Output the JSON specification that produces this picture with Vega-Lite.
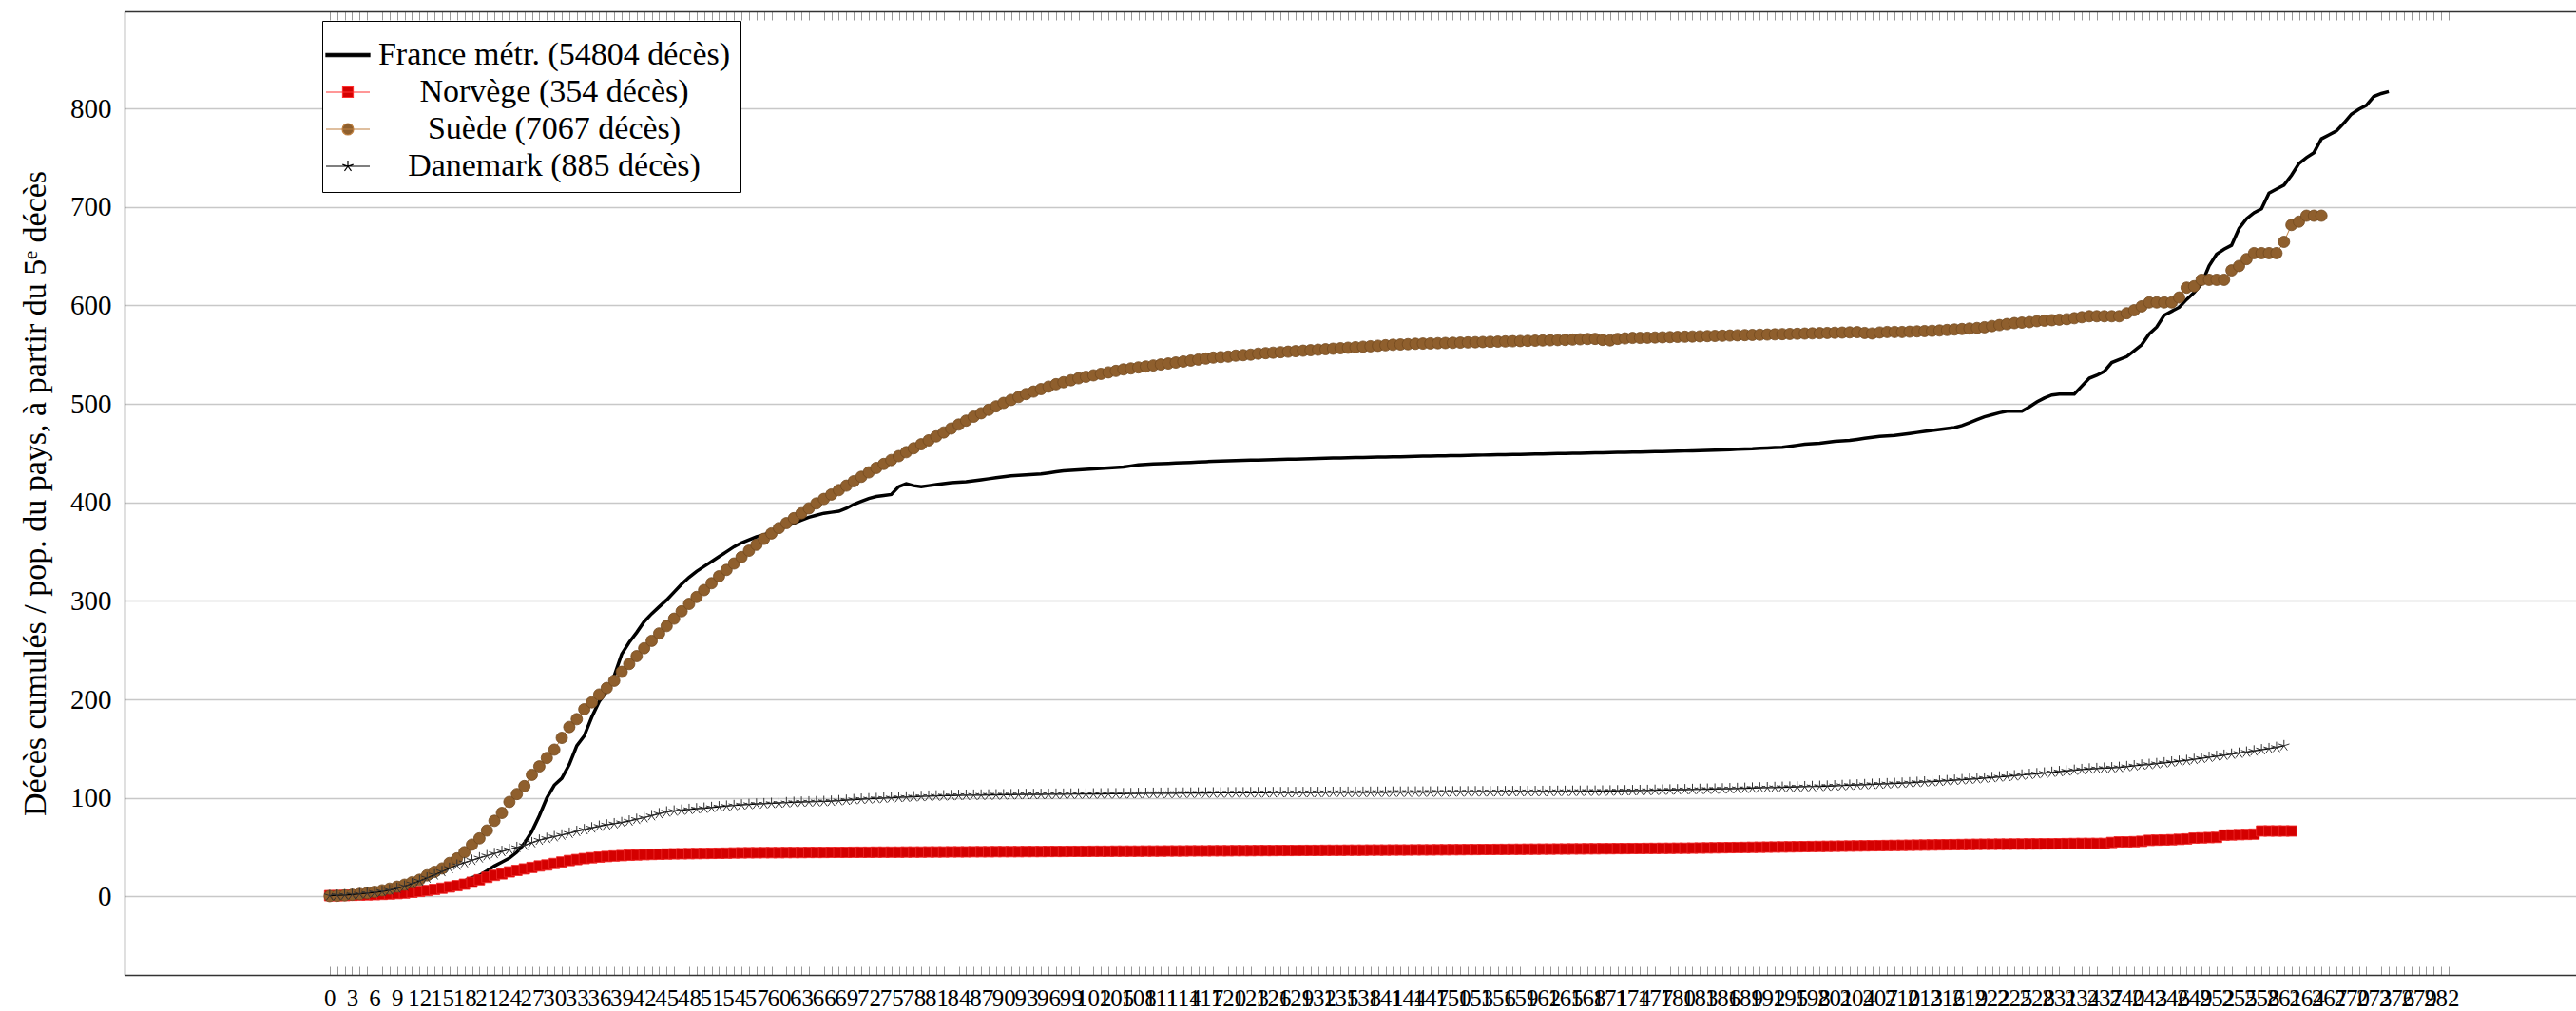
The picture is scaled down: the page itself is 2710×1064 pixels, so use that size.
{
"$schema": "https://vega.github.io/schema/vega-lite/v6.json",
"width": 2579, "height": 1014,
"autosize": {"type": "none"},
"padding": {"left": 131, "top": 12, "right": 0, "bottom": 38},
"background": "white",
"config": {"view": {"stroke": null}, "font": "Liberation Serif"},
"data": {"values": [
{"d":0,"fr":0.1,"no":0.9,"se":0.5,"dk":0.9},
{"d":1,"fr":0.1,"no":0.9,"se":0.8,"dk":1.2},
{"d":2,"fr":0.15,"no":1.1,"se":1.2,"dk":1.6},
{"d":3,"fr":0.2,"no":1.3,"se":1.8,"dk":2.1},
{"d":4,"fr":0.3,"no":1.5,"se":2.6,"dk":2.7},
{"d":5,"fr":0.45,"no":1.7,"se":3.6,"dk":3.4},
{"d":6,"fr":0.6,"no":1.9,"se":4.8,"dk":4.2},
{"d":7,"fr":0.8,"no":2.2,"se":6.3,"dk":5.2},
{"d":8,"fr":1.2,"no":2.6,"se":8,"dk":6.6},
{"d":9,"fr":1.7,"no":3,"se":10,"dk":8.3},
{"d":10,"fr":2.3,"no":3.5,"se":12,"dk":10.5},
{"d":11,"fr":3.1,"no":4.3,"se":14.5,"dk":13},
{"d":12,"fr":4.1,"no":5.2,"se":17,"dk":15.8},
{"d":13,"fr":5.5,"no":6.1,"se":21.5,"dk":18.8},
{"d":14,"fr":7,"no":7.2,"se":25,"dk":22},
{"d":15,"fr":9,"no":8.4,"se":28.5,"dk":25.3},
{"d":16,"fr":11,"no":9.7,"se":34,"dk":28.6},
{"d":17,"fr":13.5,"no":11,"se":38.7,"dk":31.8},
{"d":18,"fr":16,"no":12.5,"se":45,"dk":34.3},
{"d":19,"fr":19,"no":14.5,"se":52.6,"dk":36.8},
{"d":20,"fr":21.5,"no":17,"se":59,"dk":39.2},
{"d":21,"fr":26,"no":19.5,"se":67,"dk":41.4},
{"d":22,"fr":31,"no":21.5,"se":76.8,"dk":43.6},
{"d":23,"fr":35,"no":23,"se":84.8,"dk":45.7},
{"d":24,"fr":39,"no":25,"se":96,"dk":47.7},
{"d":25,"fr":45,"no":26.5,"se":104,"dk":49.7},
{"d":26,"fr":54,"no":28,"se":112,"dk":51.8},
{"d":27,"fr":66,"no":29.5,"se":123.5,"dk":54.6},
{"d":28,"fr":82,"no":31,"se":132,"dk":57.2},
{"d":29,"fr":100,"no":32,"se":140.6,"dk":59},
{"d":30,"fr":113,"no":33.5,"se":149,"dk":60.7},
{"d":31,"fr":120,"no":35,"se":161,"dk":62.4},
{"d":32,"fr":134,"no":36.5,"se":172,"dk":64.2},
{"d":33,"fr":153,"no":37.5,"se":180,"dk":66},
{"d":34,"fr":163,"no":38.5,"se":190,"dk":67.8},
{"d":35,"fr":182,"no":39.3,"se":197,"dk":69.6},
{"d":36,"fr":198,"no":40,"se":205,"dk":71.3},
{"d":37,"fr":208,"no":40.6,"se":211.6,"dk":72.6},
{"d":38,"fr":224,"no":41.1,"se":219,"dk":73.8},
{"d":39,"fr":246,"no":41.5,"se":228,"dk":75},
{"d":40,"fr":258,"no":41.9,"se":236,"dk":76.6},
{"d":41,"fr":268,"no":42.2,"se":244,"dk":78.3},
{"d":42,"fr":279,"no":42.5,"se":252,"dk":80},
{"d":43,"fr":287,"no":42.7,"se":259.5,"dk":82},
{"d":44,"fr":294,"no":42.9,"se":267,"dk":84},
{"d":45,"fr":301,"no":43.1,"se":274.5,"dk":85.8},
{"d":46,"fr":309,"no":43.3,"se":282,"dk":86.7},
{"d":47,"fr":317,"no":43.4,"se":289.5,"dk":87.6},
{"d":48,"fr":324,"no":43.5,"se":297,"dk":88.3},
{"d":49,"fr":330,"no":43.6,"se":304,"dk":89},
{"d":50,"fr":335,"no":43.7,"se":311,"dk":89.6},
{"d":51,"fr":340,"no":43.8,"se":318,"dk":90.3},
{"d":52,"fr":345,"no":43.9,"se":325,"dk":91},
{"d":53,"fr":350,"no":44,"se":331.5,"dk":91.7},
{"d":54,"fr":355,"no":44.2,"se":338,"dk":92.3},
{"d":55,"fr":359,"no":44.3,"se":344.5,"dk":92.9},
{"d":56,"fr":362,"no":44.4,"se":351,"dk":93.4},
{"d":57,"fr":365,"no":44.4,"se":357,"dk":93.8},
{"d":58,"fr":367,"no":44.5,"se":363,"dk":94.1},
{"d":59,"fr":370,"no":44.5,"se":368.5,"dk":94.5},
{"d":60,"fr":373,"no":44.5,"se":374,"dk":94.8},
{"d":61,"fr":376,"no":44.6,"se":379,"dk":95.2},
{"d":62,"fr":379,"no":44.6,"se":384,"dk":95.5},
{"d":63,"fr":382,"no":44.6,"se":389,"dk":95.8},
{"d":64,"fr":385,"no":44.7,"se":394,"dk":96},
{"d":65,"fr":387,"no":44.7,"se":399,"dk":96.2},
{"d":66,"fr":389,"no":44.7,"se":403.5,"dk":96.4},
{"d":67,"fr":390,"no":44.8,"se":408,"dk":96.7},
{"d":68,"fr":391,"no":44.8,"se":412.5,"dk":97.2},
{"d":69,"fr":394,"no":44.8,"se":417,"dk":97.7},
{"d":70,"fr":398,"no":44.9,"se":421.5,"dk":98.3},
{"d":71,"fr":401,"no":44.9,"se":426,"dk":98.8},
{"d":72,"fr":404,"no":44.9,"se":430.5,"dk":99.1},
{"d":73,"fr":406,"no":45,"se":435,"dk":99.4},
{"d":74,"fr":407,"no":45,"se":439,"dk":99.8},
{"d":75,"fr":408,"no":45,"se":443,"dk":100.2},
{"d":76,"fr":416,"no":45,"se":447,"dk":100.6},
{"d":77,"fr":419,"no":45.1,"se":451,"dk":100.9},
{"d":78,"fr":417,"no":45.1,"se":455,"dk":101.2},
{"d":79,"fr":416,"no":45.1,"se":459,"dk":101.5},
{"d":80,"fr":417,"no":45.2,"se":463,"dk":101.8},
{"d":81,"fr":418,"no":45.2,"se":467,"dk":102},
{"d":82,"fr":419,"no":45.2,"se":471,"dk":102.2},
{"d":83,"fr":420,"no":45.3,"se":475,"dk":102.4},
{"d":84,"fr":420.5,"no":45.3,"se":479,"dk":102.6},
{"d":85,"fr":421,"no":45.3,"se":483,"dk":102.7},
{"d":86,"fr":422,"no":45.4,"se":487,"dk":102.8},
{"d":87,"fr":423,"no":45.4,"se":490.5,"dk":102.9},
{"d":88,"fr":424,"no":45.4,"se":494,"dk":103},
{"d":89,"fr":425,"no":45.5,"se":497.5,"dk":103.1},
{"d":90,"fr":426,"no":45.5,"se":501,"dk":103.2},
{"d":91,"fr":427,"no":45.5,"se":504,"dk":103.3},
{"d":92,"fr":427.5,"no":45.5,"se":507,"dk":103.4},
{"d":93,"fr":428,"no":45.6,"se":510,"dk":103.5},
{"d":94,"fr":428.5,"no":45.6,"se":512.5,"dk":103.5},
{"d":95,"fr":429,"no":45.6,"se":515,"dk":103.6},
{"d":96,"fr":430,"no":45.7,"se":517.5,"dk":103.7},
{"d":97,"fr":431,"no":45.7,"se":520,"dk":103.8},
{"d":98,"fr":432,"no":45.7,"se":522,"dk":103.8},
{"d":99,"fr":432.5,"no":45.8,"se":524,"dk":103.9},
{"d":100,"fr":433,"no":45.8,"se":526,"dk":104},
{"d":101,"fr":433.5,"no":45.8,"se":527.5,"dk":104},
{"d":102,"fr":434,"no":45.9,"se":529,"dk":104.1},
{"d":103,"fr":434.5,"no":45.9,"se":530.5,"dk":104.1},
{"d":104,"fr":435,"no":45.9,"se":532,"dk":104.2},
{"d":105,"fr":435.5,"no":46,"se":533.5,"dk":104.2},
{"d":106,"fr":436,"no":46,"se":535,"dk":104.3},
{"d":107,"fr":437,"no":46,"se":536,"dk":104.4},
{"d":108,"fr":438,"no":46,"se":537,"dk":104.5},
{"d":109,"fr":438.5,"no":46.1,"se":538,"dk":104.6},
{"d":110,"fr":439,"no":46.1,"se":539,"dk":104.7},
{"d":111,"fr":439.3,"no":46.1,"se":540,"dk":104.7},
{"d":112,"fr":439.6,"no":46.2,"se":541,"dk":104.8},
{"d":113,"fr":440,"no":46.2,"se":542,"dk":104.8},
{"d":114,"fr":440.3,"no":46.2,"se":543,"dk":104.9},
{"d":115,"fr":440.6,"no":46.3,"se":544,"dk":104.9},
{"d":116,"fr":441,"no":46.3,"se":545,"dk":105},
{"d":117,"fr":441.3,"no":46.3,"se":546,"dk":105},
{"d":118,"fr":441.6,"no":46.4,"se":547,"dk":105.1},
{"d":119,"fr":442,"no":46.4,"se":547.5,"dk":105.1},
{"d":120,"fr":442.2,"no":46.4,"se":548,"dk":105.2},
{"d":121,"fr":442.4,"no":46.5,"se":549,"dk":105.2},
{"d":122,"fr":442.6,"no":46.5,"se":549.5,"dk":105.2},
{"d":123,"fr":442.8,"no":46.5,"se":550,"dk":105.3},
{"d":124,"fr":443,"no":46.6,"se":551,"dk":105.3},
{"d":125,"fr":443.2,"no":46.6,"se":551.5,"dk":105.3},
{"d":126,"fr":443.4,"no":46.6,"se":552,"dk":105.4},
{"d":127,"fr":443.6,"no":46.7,"se":552.5,"dk":105.4},
{"d":128,"fr":443.8,"no":46.7,"se":553,"dk":105.4},
{"d":129,"fr":444,"no":46.7,"se":553.5,"dk":105.5},
{"d":130,"fr":444.2,"no":46.8,"se":554,"dk":105.5},
{"d":131,"fr":444.4,"no":46.8,"se":554.5,"dk":105.5},
{"d":132,"fr":444.6,"no":46.8,"se":555,"dk":105.5},
{"d":133,"fr":444.8,"no":46.9,"se":555.5,"dk":105.6},
{"d":134,"fr":445,"no":46.9,"se":556,"dk":105.6},
{"d":135,"fr":445.1,"no":46.9,"se":556.5,"dk":105.6},
{"d":136,"fr":445.3,"no":47,"se":557,"dk":105.7},
{"d":137,"fr":445.5,"no":47,"se":557.5,"dk":105.7},
{"d":138,"fr":445.6,"no":47,"se":558,"dk":105.7},
{"d":139,"fr":445.8,"no":47.1,"se":558.5,"dk":105.8},
{"d":140,"fr":446,"no":47.1,"se":559,"dk":105.8},
{"d":141,"fr":446.1,"no":47.1,"se":559.5,"dk":105.8},
{"d":142,"fr":446.3,"no":47.2,"se":560,"dk":105.9},
{"d":143,"fr":446.4,"no":47.2,"se":560.3,"dk":105.9},
{"d":144,"fr":446.6,"no":47.2,"se":560.6,"dk":105.9},
{"d":145,"fr":446.7,"no":47.3,"se":561,"dk":106},
{"d":146,"fr":446.9,"no":47.3,"se":561.2,"dk":106},
{"d":147,"fr":447,"no":47.3,"se":561.4,"dk":106},
{"d":148,"fr":447.2,"no":47.4,"se":561.6,"dk":106.1},
{"d":149,"fr":447.3,"no":47.4,"se":561.8,"dk":106.1},
{"d":150,"fr":447.5,"no":47.5,"se":562,"dk":106.2},
{"d":151,"fr":447.6,"no":47.5,"se":562.2,"dk":106.2},
{"d":152,"fr":447.8,"no":47.6,"se":562.4,"dk":106.2},
{"d":153,"fr":447.9,"no":47.6,"se":562.6,"dk":106.3},
{"d":154,"fr":448.1,"no":47.7,"se":562.8,"dk":106.3},
{"d":155,"fr":448.2,"no":47.7,"se":563,"dk":106.3},
{"d":156,"fr":448.4,"no":47.8,"se":563.2,"dk":106.4},
{"d":157,"fr":448.5,"no":47.8,"se":563.4,"dk":106.4},
{"d":158,"fr":448.7,"no":47.9,"se":563.6,"dk":106.4},
{"d":159,"fr":448.8,"no":47.9,"se":563.8,"dk":106.5},
{"d":160,"fr":449,"no":48,"se":564,"dk":106.5},
{"d":161,"fr":449.1,"no":48,"se":564.2,"dk":106.5},
{"d":162,"fr":449.3,"no":48.1,"se":564.4,"dk":106.6},
{"d":163,"fr":449.4,"no":48.1,"se":564.6,"dk":106.6},
{"d":164,"fr":449.6,"no":48.2,"se":564.8,"dk":106.7},
{"d":165,"fr":449.7,"no":48.2,"se":565,"dk":106.7},
{"d":166,"fr":449.9,"no":48.3,"se":565.3,"dk":106.8},
{"d":167,"fr":450,"no":48.3,"se":565.6,"dk":106.8},
{"d":168,"fr":450.2,"no":48.4,"se":565.9,"dk":106.9},
{"d":169,"fr":450.3,"no":48.4,"se":566,"dk":106.9},
{"d":170,"fr":450.5,"no":48.5,"se":565,"dk":107},
{"d":171,"fr":450.6,"no":48.5,"se":564.5,"dk":107.1},
{"d":172,"fr":450.8,"no":48.6,"se":566,"dk":107.2},
{"d":173,"fr":450.9,"no":48.6,"se":566.5,"dk":107.3},
{"d":174,"fr":451.1,"no":48.7,"se":567,"dk":107.4},
{"d":175,"fr":451.2,"no":48.7,"se":567,"dk":107.5},
{"d":176,"fr":451.4,"no":48.8,"se":567.2,"dk":107.6},
{"d":177,"fr":451.5,"no":48.8,"se":567.4,"dk":107.8},
{"d":178,"fr":451.7,"no":48.9,"se":567.6,"dk":108},
{"d":179,"fr":451.8,"no":48.9,"se":567.8,"dk":108.1},
{"d":180,"fr":452,"no":49,"se":568,"dk":108.3},
{"d":181,"fr":452.2,"no":49,"se":568.2,"dk":108.4},
{"d":182,"fr":452.4,"no":49.1,"se":568.4,"dk":108.6},
{"d":183,"fr":452.6,"no":49.2,"se":568.6,"dk":108.7},
{"d":184,"fr":452.8,"no":49.3,"se":568.8,"dk":108.9},
{"d":185,"fr":453,"no":49.4,"se":569,"dk":109},
{"d":186,"fr":453.3,"no":49.5,"se":569.2,"dk":109.2},
{"d":187,"fr":453.6,"no":49.6,"se":569.4,"dk":109.4},
{"d":188,"fr":453.9,"no":49.7,"se":569.6,"dk":109.6},
{"d":189,"fr":454.2,"no":49.8,"se":569.8,"dk":109.8},
{"d":190,"fr":454.5,"no":49.9,"se":570,"dk":110},
{"d":191,"fr":455,"no":50,"se":570.2,"dk":110.2},
{"d":192,"fr":455.3,"no":50.1,"se":570.4,"dk":110.4},
{"d":193,"fr":455.6,"no":50.2,"se":570.6,"dk":110.6},
{"d":194,"fr":456,"no":50.3,"se":570.8,"dk":110.8},
{"d":195,"fr":457,"no":50.4,"se":571,"dk":111},
{"d":196,"fr":458,"no":50.5,"se":571.2,"dk":111.2},
{"d":197,"fr":459,"no":50.6,"se":571.4,"dk":111.4},
{"d":198,"fr":459.5,"no":50.7,"se":571.6,"dk":111.6},
{"d":199,"fr":460,"no":50.8,"se":571.8,"dk":111.8},
{"d":200,"fr":461,"no":50.9,"se":572,"dk":112},
{"d":201,"fr":462,"no":51,"se":572.2,"dk":112.3},
{"d":202,"fr":462.5,"no":51.1,"se":572.4,"dk":112.6},
{"d":203,"fr":463,"no":51.2,"se":572.6,"dk":112.9},
{"d":204,"fr":464,"no":51.3,"se":572.8,"dk":113.2},
{"d":205,"fr":465,"no":51.4,"se":572,"dk":113.5},
{"d":206,"fr":466,"no":51.5,"se":571.5,"dk":113.8},
{"d":207,"fr":467,"no":51.6,"se":572.5,"dk":114.1},
{"d":208,"fr":467.5,"no":51.7,"se":573,"dk":114.4},
{"d":209,"fr":468,"no":51.8,"se":573,"dk":114.7},
{"d":210,"fr":469,"no":51.9,"se":573,"dk":115},
{"d":211,"fr":470,"no":52,"se":573.3,"dk":115.4},
{"d":212,"fr":471,"no":52.1,"se":573.6,"dk":115.8},
{"d":213,"fr":472,"no":52.2,"se":573.9,"dk":116.2},
{"d":214,"fr":473,"no":52.3,"se":574.2,"dk":116.6},
{"d":215,"fr":474,"no":52.4,"se":574.5,"dk":117},
{"d":216,"fr":475,"no":52.5,"se":575,"dk":117.5},
{"d":217,"fr":476,"no":52.6,"se":575.5,"dk":118},
{"d":218,"fr":478,"no":52.7,"se":576,"dk":118.5},
{"d":219,"fr":481,"no":52.8,"se":576.5,"dk":119},
{"d":220,"fr":484,"no":52.9,"se":577,"dk":119.5},
{"d":221,"fr":487,"no":53,"se":577.8,"dk":120.1},
{"d":222,"fr":489,"no":53,"se":579,"dk":120.7},
{"d":223,"fr":491,"no":53.1,"se":580,"dk":121.3},
{"d":224,"fr":492.6,"no":53.1,"se":581,"dk":121.9},
{"d":225,"fr":492.5,"no":53.2,"se":582,"dk":122.5},
{"d":226,"fr":492.5,"no":53.2,"se":582.5,"dk":123.2},
{"d":227,"fr":497,"no":53.3,"se":583,"dk":123.9},
{"d":228,"fr":502,"no":53.3,"se":584,"dk":124.6},
{"d":229,"fr":506,"no":53.4,"se":584.5,"dk":125.3},
{"d":230,"fr":509,"no":53.4,"se":585,"dk":126},
{"d":231,"fr":510,"no":53.5,"se":585.5,"dk":126.7},
{"d":232,"fr":510,"no":53.6,"se":586,"dk":127.4},
{"d":233,"fr":510,"no":53.7,"se":587,"dk":128.1},
{"d":234,"fr":518,"no":53.8,"se":588,"dk":128.8},
{"d":235,"fr":526,"no":53.8,"se":589,"dk":129.4},
{"d":236,"fr":529,"no":53.8,"se":589,"dk":129.8},
{"d":237,"fr":533,"no":53.8,"se":589,"dk":130.2},
{"d":238,"fr":542,"no":54.8,"se":589,"dk":130.6},
{"d":239,"fr":545,"no":55.4,"se":589,"dk":131},
{"d":240,"fr":548,"no":55.4,"se":592,"dk":131.8},
{"d":241,"fr":554,"no":55.6,"se":595,"dk":132.6},
{"d":242,"fr":560,"no":56,"se":599,"dk":133.4},
{"d":243,"fr":571,"no":57,"se":603,"dk":134},
{"d":244,"fr":578,"no":57.2,"se":603,"dk":134.8},
{"d":245,"fr":590,"no":57.4,"se":603,"dk":135.6},
{"d":246,"fr":594,"no":57.6,"se":603,"dk":136.4},
{"d":247,"fr":598,"no":58,"se":608,"dk":137.2},
{"d":248,"fr":606,"no":58.4,"se":618,"dk":138},
{"d":249,"fr":613,"no":59.3,"se":619.4,"dk":139.1},
{"d":250,"fr":622,"no":59.5,"se":626,"dk":140.2},
{"d":251,"fr":640,"no":59.8,"se":626,"dk":141.3},
{"d":252,"fr":652,"no":60,"se":626,"dk":142.3},
{"d":253,"fr":657,"no":62.3,"se":626,"dk":143.3},
{"d":254,"fr":661,"no":62.5,"se":635.5,"dk":144.4},
{"d":255,"fr":678,"no":62.8,"se":640,"dk":145.4},
{"d":256,"fr":688,"no":63,"se":647,"dk":146.5},
{"d":257,"fr":694,"no":63.3,"se":653,"dk":147.7},
{"d":258,"fr":698,"no":66.5,"se":653,"dk":148.9},
{"d":259,"fr":714,"no":66.5,"se":653,"dk":150},
{"d":260,"fr":718,"no":66.5,"se":653,"dk":151.3},
{"d":261,"fr":722,"no":66.5,"se":664.5,"dk":153},
{"d":262,"fr":732,"no":66.5,"se":681.6},
{"d":263,"fr":744,"se":685},
{"d":264,"fr":750,"se":691},
{"d":265,"fr":755,"se":691},
{"d":266,"fr":769,"se":691},
{"d":267,"fr":773},
{"d":268,"fr":777},
{"d":269,"fr":785},
{"d":270,"fr":794},
{"d":271,"fr":799},
{"d":272,"fr":803},
{"d":273,"fr":812},
{"d":274,"fr":815},
{"d":275,"fr":817}
]},
"transform": [
  {"fold": ["fr", "no", "se", "dk"], "as": ["pays", "v"]},
  {"filter": "isValid(datum.v)"}
],
"layer": [
  {
    "transform": [{"filter": "datum.pays === 'fr'"}],
    "mark": {"type": "line", "strokeWidth": 3.5, "color": "black"},
    "encoding": {
      "x": {"field": "d", "type": "quantitative",
        "scale": {"domain": [-27.4, 300], "nice": false, "zero": false},
        "axis": {"orient": "bottom", "title": null, "grid": false, "format": "d",
          "values": [0,1,2,3,4,5,6,7,8,9,10,11,12,13,14,15,16,17,18,19,20,21,22,23,24,25,26,27,28,29,30,31,32,33,34,35,36,37,38,39,40,41,42,43,44,45,46,47,48,49,50,51,52,53,54,55,56,57,58,59,60,61,62,63,64,65,66,67,68,69,70,71,72,73,74,75,76,77,78,79,80,81,82,83,84,85,86,87,88,89,90,91,92,93,94,95,96,97,98,99,100,101,102,103,104,105,106,107,108,109,110,111,112,113,114,115,116,117,118,119,120,121,122,123,124,125,126,127,128,129,130,131,132,133,134,135,136,137,138,139,140,141,142,143,144,145,146,147,148,149,150,151,152,153,154,155,156,157,158,159,160,161,162,163,164,165,166,167,168,169,170,171,172,173,174,175,176,177,178,179,180,181,182,183,184,185,186,187,188,189,190,191,192,193,194,195,196,197,198,199,200,201,202,203,204,205,206,207,208,209,210,211,212,213,214,215,216,217,218,219,220,221,222,223,224,225,226,227,228,229,230,231,232,233,234,235,236,237,238,239,240,241,242,243,244,245,246,247,248,249,250,251,252,253,254,255,256,257,258,259,260,261,262,263,264,265,266,267,268,269,270,271,272,273,274,275,276,277,278,279,280,281,282,283],
          "labelExpr": "datum.value % 3 === 0 ? datum.label : ''",
          "labelFont": "Liberation Serif", "labelFontSize": 25, "labelColor": "black",
          "labelOverlap": false, "labelFlush": false, "labelBound": false, "labelPadding": 21,
          "tickSize": -9, "tickColor": "#999999", "tickWidth": 1,
          "domainColor": "#333333", "domainWidth": 1.3}},
      "y": {"field": "v", "type": "quantitative",
        "scale": {"domain": [-79.6, 898.4], "nice": false, "zero": false},
        "axis": {"values": [0,100,200,300,400,500,600,700,800], "grid": true, "gridColor": "#c8c8c8", "gridWidth": 1.3,
          "ticks": false, "domainColor": "#333333", "domainWidth": 1.3,
          "labelFont": "Liberation Serif", "labelFontSize": 29, "labelColor": "black", "labelPadding": 14,
          "title": "Décès cumulés / pop. du pays, à partir du 5ᵉ décès",
          "titleFont": "Liberation Serif", "titleFontSize": 34, "titleFontWeight": "normal", "titleColor": "black", "titlePadding": 19}}
    }
  },
  {
    "transform": [{"filter": "datum.pays === 'no'"}],
    "mark": {"type": "line", "color": "#ff0000", "strokeWidth": 1},
    "encoding": {"x": {"field": "d", "type": "quantitative", "axis": null}, "y": {"field": "v", "type": "quantitative"}}
  },
  {
    "transform": [{"filter": "datum.pays === 'no'"}],
    "mark": {"type": "point", "shape": "square", "filled": true, "size": 121, "fill": "#d40000", "stroke": "#f02a2a", "strokeWidth": 0.8, "opacity": 1},
    "encoding": {"x": {"field": "d", "type": "quantitative", "axis": null}, "y": {"field": "v", "type": "quantitative"}}
  },
  {
    "transform": [{"filter": "datum.pays === 'se'"}],
    "mark": {"type": "line", "color": "#bf8040", "strokeWidth": 1},
    "encoding": {"x": {"field": "d", "type": "quantitative", "axis": null}, "y": {"field": "v", "type": "quantitative"}}
  },
  {
    "transform": [{"filter": "datum.pays === 'se'"}],
    "mark": {"type": "point", "shape": "circle", "filled": true, "size": 144, "fill": "#8f5f2d", "stroke": "#744a20", "strokeWidth": 0.8, "opacity": 1},
    "encoding": {"x": {"field": "d", "type": "quantitative", "axis": null}, "y": {"field": "v", "type": "quantitative"}}
  },
  {
    "transform": [{"filter": "datum.pays === 'dk'"}],
    "mark": {"type": "line", "color": "black", "strokeWidth": 1.2},
    "encoding": {"x": {"field": "d", "type": "quantitative", "axis": null}, "y": {"field": "v", "type": "quantitative"}}
  },
  {
    "transform": [{"filter": "datum.pays === 'dk'"}],
    "mark": {"type": "point", "shape": "M0,0V-1M0,0L0.951,-0.309M0,0L0.588,0.809M0,0L-0.588,0.809M0,0L-0.951,-0.309", "filled": false, "size": 144, "color": "#333333", "strokeWidth": 1, "opacity": 1},
    "encoding": {"x": {"field": "d", "type": "quantitative",
        "axis": {"orient": "top", "title": null, "grid": false, "labels": false,
          "values": [0,1,2,3,4,5,6,7,8,9,10,11,12,13,14,15,16,17,18,19,20,21,22,23,24,25,26,27,28,29,30,31,32,33,34,35,36,37,38,39,40,41,42,43,44,45,46,47,48,49,50,51,52,53,54,55,56,57,58,59,60,61,62,63,64,65,66,67,68,69,70,71,72,73,74,75,76,77,78,79,80,81,82,83,84,85,86,87,88,89,90,91,92,93,94,95,96,97,98,99,100,101,102,103,104,105,106,107,108,109,110,111,112,113,114,115,116,117,118,119,120,121,122,123,124,125,126,127,128,129,130,131,132,133,134,135,136,137,138,139,140,141,142,143,144,145,146,147,148,149,150,151,152,153,154,155,156,157,158,159,160,161,162,163,164,165,166,167,168,169,170,171,172,173,174,175,176,177,178,179,180,181,182,183,184,185,186,187,188,189,190,191,192,193,194,195,196,197,198,199,200,201,202,203,204,205,206,207,208,209,210,211,212,213,214,215,216,217,218,219,220,221,222,223,224,225,226,227,228,229,230,231,232,233,234,235,236,237,238,239,240,241,242,243,244,245,246,247,248,249,250,251,252,253,254,255,256,257,258,259,260,261,262,263,264,265,266,267,268,269,270,271,272,273,274,275,276,277,278,279,280,281,282,283],
          "tickSize": -9, "tickColor": "#999999", "tickWidth": 1,
          "domainColor": "#333333", "domainWidth": 1.3}},
      "y": {"field": "v", "type": "quantitative"}}
  },
  {
    "transform": [{"filter": "false"}],
    "mark": {"type": "point", "filled": true, "size": 576, "strokeWidth": 1.2, "opacity": 1},
    "encoding": {
      "x": {"field": "d", "type": "quantitative", "axis": null},
      "y": {"field": "v", "type": "quantitative"},
      "shape": {"field": "pays", "type": "nominal",
        "scale": {"domain": ["fr", "no", "se", "dk"], "range": ["M-1.92,-0.146H1.92V0.146H-1.92Z", "M-1.92,0H1.92M-0.46,-0.46H0.46V0.46H-0.46Z", "M-1.92,0H1.92M-0.5,0A0.5,0.5,0,1,0,0.5,0A0.5,0.5,0,1,0,-0.5,0Z", "M-1.92,0H1.92M0,0V-0.5M0,0L0.476,-0.155M0,0L0.294,0.405M0,0L-0.294,0.405M0,0L-0.476,-0.155"]},
        "legend": {"orient": "none", "legendX": 208, "legendY": 10, "title": " ", "titleFontSize": 4, "titlePadding": 5,
          "labelExpr": "datum.value === 'fr' ? 'France métr. (54804 décès)' : datum.value === 'no' ? 'Norvège (354 décès)' : datum.value === 'se' ? 'Suède (7067 décès)' : 'Danemark (885 décès)'",
          "labelFont": "Liberation Serif", "labelFontSize": 34, "labelColor": "black",
          "labelAlign": "center", "labelOffset": 200, "labelLimit": 1000,
          "symbolSize": 576, "symbolStrokeWidth": 1.2, "symbolOpacity": 1,
          "strokeColor": "black", "fillColor": "white", "padding": 10, "rowPadding": 5}},
      "fill": {"field": "pays", "type": "nominal",
        "scale": {"domain": ["fr", "no", "se", "dk"], "range": ["black", "#d40000", "#8f5f2d", "transparent"]}},
      "stroke": {"field": "pays", "type": "nominal",
        "scale": {"domain": ["fr", "no", "se", "dk"], "range": ["black", "#ff3030", "#bf8040", "black"]}}
    }
  }
],
"resolve": {"axis": {"x": "independent"}}
}
